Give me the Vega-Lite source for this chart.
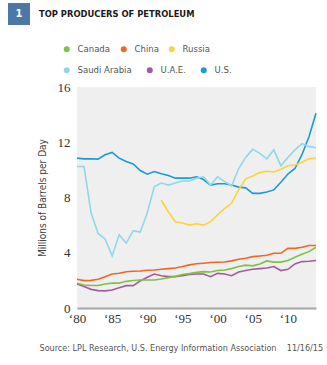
{
  "$schema": "https://vega.github.io/schema/vega-lite/v6.json",
  "width": 239,
  "height": 221,
  "autosize": {"type": "none"},
  "padding": {"left": 77, "top": 87, "right": 11, "bottom": 57},
  "background": "white",
  "view": {"fill": "#efefef", "stroke": null},
  "config": {
    "legend": {
      "orient": "none",
      "direction": "horizontal",
      "title": null,
      "padding": 0,
      "columnPadding": 13,
      "symbolType": "circle",
      "symbolSize": 36,
      "symbolStrokeWidth": 0,
      "labelFont": "Liberation Sans Narrow, DejaVu Sans Condensed, sans-serif",
      "labelFontSize": 9.5,
      "labelColor": "#555555",
      "labelOffset": 6,
      "labelLimit": 0
    }
  },
  "title": {
    "text": "TOP PRODUCERS OF PETROLEUM",
    "anchor": "start",
    "frame": "group",
    "orient": "top",
    "dx": -38,
    "dy": 16,
    "offset": 0,
    "font": "Liberation Sans Narrow, DejaVu Sans Condensed, sans-serif",
    "fontSize": 9.3,
    "fontWeight": "bold",
    "color": "#1a1a1a"
  },
  "datasets": {
    "oil": [
      {"year": 1980, "country": "U.S.", "value": 10.85},
      {"year": 1981, "country": "U.S.", "value": 10.8},
      {"year": 1982, "country": "U.S.", "value": 10.8},
      {"year": 1983, "country": "U.S.", "value": 10.78},
      {"year": 1984, "country": "U.S.", "value": 11.09},
      {"year": 1985, "country": "U.S.", "value": 11.26},
      {"year": 1986, "country": "U.S.", "value": 10.85},
      {"year": 1987, "country": "U.S.", "value": 10.6},
      {"year": 1988, "country": "U.S.", "value": 10.43},
      {"year": 1989, "country": "U.S.", "value": 9.95},
      {"year": 1990, "country": "U.S.", "value": 9.69},
      {"year": 1991, "country": "U.S.", "value": 9.88},
      {"year": 1992, "country": "U.S.", "value": 9.72},
      {"year": 1993, "country": "U.S.", "value": 9.6},
      {"year": 1994, "country": "U.S.", "value": 9.4},
      {"year": 1995, "country": "U.S.", "value": 9.4},
      {"year": 1996, "country": "U.S.", "value": 9.4},
      {"year": 1997, "country": "U.S.", "value": 9.5},
      {"year": 1998, "country": "U.S.", "value": 9.3},
      {"year": 1999, "country": "U.S.", "value": 8.9},
      {"year": 2000, "country": "U.S.", "value": 9.0},
      {"year": 2001, "country": "U.S.", "value": 9.0},
      {"year": 2002, "country": "U.S.", "value": 8.9},
      {"year": 2003, "country": "U.S.", "value": 8.75},
      {"year": 2004, "country": "U.S.", "value": 8.7},
      {"year": 2005, "country": "U.S.", "value": 8.3},
      {"year": 2006, "country": "U.S.", "value": 8.3},
      {"year": 2007, "country": "U.S.", "value": 8.4},
      {"year": 2008, "country": "U.S.", "value": 8.55},
      {"year": 2009, "country": "U.S.", "value": 9.1},
      {"year": 2010, "country": "U.S.", "value": 9.7},
      {"year": 2011, "country": "U.S.", "value": 10.1},
      {"year": 2012, "country": "U.S.", "value": 11.1},
      {"year": 2013, "country": "U.S.", "value": 12.4},
      {"year": 2014, "country": "U.S.", "value": 14.1},
      {"year": 1980, "country": "Saudi Arabia", "value": 10.24},
      {"year": 1981, "country": "Saudi Arabia", "value": 10.24},
      {"year": 1982, "country": "Saudi Arabia", "value": 6.9},
      {"year": 1983, "country": "Saudi Arabia", "value": 5.4},
      {"year": 1984, "country": "Saudi Arabia", "value": 5.0},
      {"year": 1985, "country": "Saudi Arabia", "value": 3.77},
      {"year": 1986, "country": "Saudi Arabia", "value": 5.3},
      {"year": 1987, "country": "Saudi Arabia", "value": 4.7},
      {"year": 1988, "country": "Saudi Arabia", "value": 5.6},
      {"year": 1989, "country": "Saudi Arabia", "value": 5.5},
      {"year": 1990, "country": "Saudi Arabia", "value": 6.9},
      {"year": 1991, "country": "Saudi Arabia", "value": 8.8},
      {"year": 1992, "country": "Saudi Arabia", "value": 9.05},
      {"year": 1993, "country": "Saudi Arabia", "value": 8.9},
      {"year": 1994, "country": "Saudi Arabia", "value": 9.05},
      {"year": 1995, "country": "Saudi Arabia", "value": 9.2},
      {"year": 1996, "country": "Saudi Arabia", "value": 9.2},
      {"year": 1997, "country": "Saudi Arabia", "value": 9.4},
      {"year": 1998, "country": "Saudi Arabia", "value": 9.5},
      {"year": 1999, "country": "Saudi Arabia", "value": 8.9},
      {"year": 2000, "country": "Saudi Arabia", "value": 9.5},
      {"year": 2001, "country": "Saudi Arabia", "value": 9.15},
      {"year": 2002, "country": "Saudi Arabia", "value": 8.85},
      {"year": 2003, "country": "Saudi Arabia", "value": 10.1},
      {"year": 2004, "country": "Saudi Arabia", "value": 10.9},
      {"year": 2005, "country": "Saudi Arabia", "value": 11.5},
      {"year": 2006, "country": "Saudi Arabia", "value": 11.2},
      {"year": 2007, "country": "Saudi Arabia", "value": 10.8},
      {"year": 2008, "country": "Saudi Arabia", "value": 11.45},
      {"year": 2009, "country": "Saudi Arabia", "value": 10.3},
      {"year": 2010, "country": "Saudi Arabia", "value": 10.9},
      {"year": 2011, "country": "Saudi Arabia", "value": 11.45},
      {"year": 2012, "country": "Saudi Arabia", "value": 11.9},
      {"year": 2013, "country": "Saudi Arabia", "value": 11.7},
      {"year": 2014, "country": "Saudi Arabia", "value": 11.6},
      {"year": 1992, "country": "Russia", "value": 7.8},
      {"year": 1993, "country": "Russia", "value": 6.95},
      {"year": 1994, "country": "Russia", "value": 6.25},
      {"year": 1995, "country": "Russia", "value": 6.15},
      {"year": 1996, "country": "Russia", "value": 6.0},
      {"year": 1997, "country": "Russia", "value": 6.1},
      {"year": 1998, "country": "Russia", "value": 6.0},
      {"year": 1999, "country": "Russia", "value": 6.25},
      {"year": 2000, "country": "Russia", "value": 6.75},
      {"year": 2001, "country": "Russia", "value": 7.2},
      {"year": 2002, "country": "Russia", "value": 7.6},
      {"year": 2003, "country": "Russia", "value": 8.55},
      {"year": 2004, "country": "Russia", "value": 9.35},
      {"year": 2005, "country": "Russia", "value": 9.55},
      {"year": 2006, "country": "Russia", "value": 9.8},
      {"year": 2007, "country": "Russia", "value": 9.9},
      {"year": 2008, "country": "Russia", "value": 9.85},
      {"year": 2009, "country": "Russia", "value": 10.05},
      {"year": 2010, "country": "Russia", "value": 10.3},
      {"year": 2011, "country": "Russia", "value": 10.35},
      {"year": 2012, "country": "Russia", "value": 10.55},
      {"year": 2013, "country": "Russia", "value": 10.8},
      {"year": 2014, "country": "Russia", "value": 10.85},
      {"year": 1980, "country": "China", "value": 2.08},
      {"year": 1981, "country": "China", "value": 1.98},
      {"year": 1982, "country": "China", "value": 2.0},
      {"year": 1983, "country": "China", "value": 2.08},
      {"year": 1984, "country": "China", "value": 2.27},
      {"year": 1985, "country": "China", "value": 2.46},
      {"year": 1986, "country": "China", "value": 2.51},
      {"year": 1987, "country": "China", "value": 2.63},
      {"year": 1988, "country": "China", "value": 2.66},
      {"year": 1989, "country": "China", "value": 2.68},
      {"year": 1990, "country": "China", "value": 2.73},
      {"year": 1991, "country": "China", "value": 2.75},
      {"year": 1992, "country": "China", "value": 2.8},
      {"year": 1993, "country": "China", "value": 2.85},
      {"year": 1994, "country": "China", "value": 2.9},
      {"year": 1995, "country": "China", "value": 3.0},
      {"year": 1996, "country": "China", "value": 3.12},
      {"year": 1997, "country": "China", "value": 3.2},
      {"year": 1998, "country": "China", "value": 3.24},
      {"year": 1999, "country": "China", "value": 3.29},
      {"year": 2000, "country": "China", "value": 3.31},
      {"year": 2001, "country": "China", "value": 3.33},
      {"year": 2002, "country": "China", "value": 3.41},
      {"year": 2003, "country": "China", "value": 3.53},
      {"year": 2004, "country": "China", "value": 3.6},
      {"year": 2005, "country": "China", "value": 3.72},
      {"year": 2006, "country": "China", "value": 3.77},
      {"year": 2007, "country": "China", "value": 3.82},
      {"year": 2008, "country": "China", "value": 3.96},
      {"year": 2009, "country": "China", "value": 3.96},
      {"year": 2010, "country": "China", "value": 4.32},
      {"year": 2011, "country": "China", "value": 4.32},
      {"year": 2012, "country": "China", "value": 4.4},
      {"year": 2013, "country": "China", "value": 4.52},
      {"year": 2014, "country": "China", "value": 4.52},
      {"year": 1980, "country": "Canada", "value": 1.79},
      {"year": 1981, "country": "Canada", "value": 1.67},
      {"year": 1982, "country": "Canada", "value": 1.63},
      {"year": 1983, "country": "Canada", "value": 1.63},
      {"year": 1984, "country": "Canada", "value": 1.74},
      {"year": 1985, "country": "Canada", "value": 1.8},
      {"year": 1986, "country": "Canada", "value": 1.8},
      {"year": 1987, "country": "Canada", "value": 1.93},
      {"year": 1988, "country": "Canada", "value": 1.99},
      {"year": 1989, "country": "Canada", "value": 2.03},
      {"year": 1990, "country": "Canada", "value": 2.03},
      {"year": 1991, "country": "Canada", "value": 2.03},
      {"year": 1992, "country": "Canada", "value": 2.1},
      {"year": 1993, "country": "Canada", "value": 2.2},
      {"year": 1994, "country": "Canada", "value": 2.29},
      {"year": 1995, "country": "Canada", "value": 2.42},
      {"year": 1996, "country": "Canada", "value": 2.49},
      {"year": 1997, "country": "Canada", "value": 2.58},
      {"year": 1998, "country": "Canada", "value": 2.63},
      {"year": 1999, "country": "Canada", "value": 2.61},
      {"year": 2000, "country": "Canada", "value": 2.71},
      {"year": 2001, "country": "Canada", "value": 2.75},
      {"year": 2002, "country": "Canada", "value": 2.85},
      {"year": 2003, "country": "Canada", "value": 3.0},
      {"year": 2004, "country": "Canada", "value": 3.1},
      {"year": 2005, "country": "Canada", "value": 3.05},
      {"year": 2006, "country": "Canada", "value": 3.19},
      {"year": 2007, "country": "Canada", "value": 3.41},
      {"year": 2008, "country": "Canada", "value": 3.32},
      {"year": 2009, "country": "Canada", "value": 3.32},
      {"year": 2010, "country": "Canada", "value": 3.44},
      {"year": 2011, "country": "Canada", "value": 3.67},
      {"year": 2012, "country": "Canada", "value": 3.89},
      {"year": 2013, "country": "Canada", "value": 4.08},
      {"year": 2014, "country": "Canada", "value": 4.4},
      {"year": 1980, "country": "U.A.E.", "value": 1.74},
      {"year": 1981, "country": "U.A.E.", "value": 1.55},
      {"year": 1982, "country": "U.A.E.", "value": 1.35},
      {"year": 1983, "country": "U.A.E.", "value": 1.26},
      {"year": 1984, "country": "U.A.E.", "value": 1.24},
      {"year": 1985, "country": "U.A.E.", "value": 1.3},
      {"year": 1986, "country": "U.A.E.", "value": 1.47},
      {"year": 1987, "country": "U.A.E.", "value": 1.62},
      {"year": 1988, "country": "U.A.E.", "value": 1.62},
      {"year": 1989, "country": "U.A.E.", "value": 1.96},
      {"year": 1990, "country": "U.A.E.", "value": 2.22},
      {"year": 1991, "country": "U.A.E.", "value": 2.46},
      {"year": 1992, "country": "U.A.E.", "value": 2.34},
      {"year": 1993, "country": "U.A.E.", "value": 2.27},
      {"year": 1994, "country": "U.A.E.", "value": 2.27},
      {"year": 1995, "country": "U.A.E.", "value": 2.34},
      {"year": 1996, "country": "U.A.E.", "value": 2.42},
      {"year": 1997, "country": "U.A.E.", "value": 2.46},
      {"year": 1998, "country": "U.A.E.", "value": 2.46},
      {"year": 1999, "country": "U.A.E.", "value": 2.27},
      {"year": 2000, "country": "U.A.E.", "value": 2.51},
      {"year": 2001, "country": "U.A.E.", "value": 2.46},
      {"year": 2002, "country": "U.A.E.", "value": 2.34},
      {"year": 2003, "country": "U.A.E.", "value": 2.61},
      {"year": 2004, "country": "U.A.E.", "value": 2.71},
      {"year": 2005, "country": "U.A.E.", "value": 2.8},
      {"year": 2006, "country": "U.A.E.", "value": 2.85},
      {"year": 2007, "country": "U.A.E.", "value": 2.9},
      {"year": 2008, "country": "U.A.E.", "value": 3.0},
      {"year": 2009, "country": "U.A.E.", "value": 2.71},
      {"year": 2010, "country": "U.A.E.", "value": 2.8},
      {"year": 2011, "country": "U.A.E.", "value": 3.19},
      {"year": 2012, "country": "U.A.E.", "value": 3.36},
      {"year": 2013, "country": "U.A.E.", "value": 3.38},
      {"year": 2014, "country": "U.A.E.", "value": 3.44}
    ],
    "badge": [{"badge": "1"}]
  },
  "encoding": {
    "x": {
      "field": "year",
      "type": "quantitative",
      "scale": {"domain": [1980, 2014], "nice": false, "zero": false},
      "axis": {
        "values": [1980, 1985, 1990, 1995, 2000, 2005, 2010],
        "labelExpr": "'‘' + substring(toString(datum.value), 2)",
        "grid": false,
        "ticks": false,
        "domain": true,
        "domainColor": "#a6a6a6",
        "domainWidth": 2,
        "labelFont": "Liberation Serif, DejaVu Serif, serif",
        "labelFontSize": 13,
        "labelColor": "#333333",
        "labelPadding": 4,
        "labelFlush": false,
        "title": "Source: LPL Research, U.S. Energy Information Association\u00a0\u00a0\u00a0\u00a011/16/15",
        "titleFont": "Liberation Sans Narrow, DejaVu Sans Condensed, sans-serif",
        "titleFontSize": 9,
        "titleFontWeight": "normal",
        "titleColor": "#555555",
        "titleAnchor": "start",
        "titleAlign": "left",
        "titleBaseline": "alphabetic",
        "titleX": -38,
        "titleY": 42
      }
    },
    "y": {
      "field": "value",
      "type": "quantitative",
      "scale": {"domain": [0, 16], "nice": false},
      "axis": {
        "values": [0, 4, 8, 12, 16],
        "grid": false,
        "ticks": false,
        "domain": false,
        "labelFont": "Liberation Serif, DejaVu Serif, serif",
        "labelFontSize": 13,
        "labelColor": "#333333",
        "labelPadding": 7,
        "labelFlush": false,
        "title": "Millions of Barrels per Day",
        "titleFont": "Liberation Sans Narrow, DejaVu Sans Condensed, sans-serif",
        "titleFontSize": 10,
        "titleFontWeight": "normal",
        "titleColor": "#444444",
        "titlePadding": 10
      }
    }
  },
  "layer": [
    {
      "data": {"name": "oil"},
      "transform": [{"filter": {"field": "country", "oneOf": ["Saudi Arabia", "U.A.E.", "U.S."]}}],
      "mark": {"type": "line", "strokeWidth": 1.6, "interpolate": "linear"},
      "encoding": {
        "stroke": {
          "field": "country",
          "type": "nominal",
          "scale": {
            "domain": ["Saudi Arabia", "U.A.E.", "U.S."],
            "range": ["#8fd8ea", "#a45a9f", "#1a9ad6"]
          },
          "legend": {
            "legendX": -15,
            "legendY": -22,
            "encode": {
              "symbols": {"update": {"fill": {"scale": "stroke", "field": "value"}, "opacity": {"value": 1}}}
            }
          }
        }
      }
    },
    {
      "data": {"name": "oil"},
      "transform": [{"filter": {"field": "country", "oneOf": ["Canada", "China", "Russia"]}}],
      "mark": {"type": "line", "strokeWidth": 1.6, "interpolate": "linear"},
      "encoding": {
        "color": {
          "field": "country",
          "type": "nominal",
          "scale": {
            "domain": ["Canada", "China", "Russia"],
            "range": ["#7dc242", "#f26522", "#fdd23a"]
          },
          "legend": {
            "legendX": -15,
            "legendY": -43,
            "columnPadding": 8,
            "encode": {
              "symbols": {"update": {"fill": {"scale": "color", "field": "value"}, "opacity": {"value": 1}}}
            }
          }
        }
      }
    },
    {
      "data": {"name": "badge"},
      "mark": {"type": "point", "filled": true, "opacity": 0},
      "encoding": {
        "x": {"value": 0},
        "y": {"value": 0},
        "shape": {
          "field": "badge",
          "type": "nominal",
          "scale": {"range": ["square"]},
          "legend": {
            "legendX": -69,
            "legendY": -84,
            "symbolType": "square",
            "symbolSize": 484,
            "symbolFillColor": "#1a9ad6",
            "symbolStrokeWidth": 0,
            "symbolOpacity": 1,
            "labelColor": "#ffffff",
            "labelFont": "Liberation Sans Narrow, DejaVu Sans Condensed, sans-serif",
            "labelFontSize": 11,
            "labelFontWeight": "bold",
            "labelAlign": "center",
            "labelOffset": -11,
            "encode": {
              "symbols": {"update": {"fill": {"value": "#1a9ad6"}, "opacity": {"value": 1}}}
            }
          }
        }
      }
    }
  ]
}
